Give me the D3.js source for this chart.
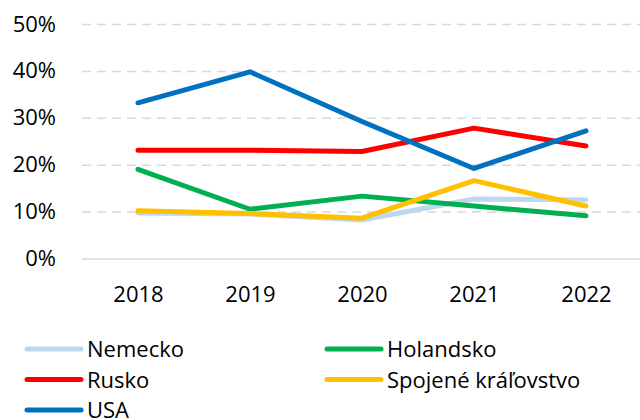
<!DOCTYPE html>
<html>
<head>
<meta charset="utf-8">
<script src="https://cdn.jsdelivr.net/npm/d3@7"></script>
<style>
  body { margin: 0; background: #fff; }
  svg { display: block; font-family: "Open Sans", sans-serif; }
</style>
</head>
<body>
<div id="vis"></div>
<script>
// years and shares (fraction) per country
var years = ["2018", "2019", "2020", "2021", "2022"];
var nemecko = [0.097, 0.095, 0.082, 0.127, 0.125];
var holandsko = [0.190, 0.105, 0.133, 0.112, 0.091];
var rusko = [0.231, 0.231, 0.228, 0.278, 0.240];
var spojene = [0.102, 0.096, 0.086, 0.166, 0.112];
var usa = [0.332, 0.398, 0.292, 0.192, 0.272];
var yTicks = [0, 0.1, 0.2, 0.3, 0.4, 0.5];

// draw order = legend order (last on top)
var series = [
    { name: "Nemecko", values: nemecko, color: "#bdd7ee" },
    { name: "Holandsko", values: holandsko, color: "#00b050" },
    { name: "Rusko", values: rusko, color: "#ff0000" },
    { name: "Spojené kráľovstvo", values: spojene, color: "#ffc000" },
    { name: "USA", values: usa, color: "#0070c0" }
];

var width = 640, height = 420;
var plotLeft = 82, plotRight = 642, plotTop = 24, plotBottom = 258.5;

var svg = d3.select("#vis").append("svg")
    .attr("width", width)
    .attr("height", height);

var x = d3.scalePoint().domain(years).range([plotLeft, plotRight]).padding(0.5);
var y = d3.scaleLinear().domain([0, 0.5]).range([plotBottom, plotTop]);

//y axis with gridlines
var yAxis = d3.axisLeft(y)
    .tickValues(yTicks)
    .tickFormat(d3.format(".0%"))
    .tickSize(-(640 - plotLeft))
    .tickPadding(26);

var yg = svg.append("g")
    .attr("transform", "translate(" + plotLeft + ",0)")
    .call(yAxis);
yg.select(".domain").remove();
yg.selectAll(".tick line")
    .attr("stroke", "#d9d9d9")
    .attr("stroke-width", 1.5)
    .attr("stroke-dasharray", function (d) { return d === 0 ? null : "9,6"; });
yg.selectAll(".tick text")
    .attr("font-size", 22)
    .attr("font-family", "Open Sans, sans-serif")
    .attr("fill", "#000");

//x axis labels
var xg = svg.append("g")
    .attr("transform", "translate(0," + plotBottom + ")")
    .call(d3.axisBottom(x).tickSize(0).tickPadding(28));
xg.select(".domain").remove();
xg.selectAll(".tick text")
    .attr("font-size", 22)
    .attr("font-family", "Open Sans, sans-serif")
    .attr("fill", "#000");

//lines
var line = d3.line()
    .x(function (d, i) { return x(years[i]); })
    .y(function (d) { return y(d); });

svg.append("g").selectAll("path")
    .data(series)
    .enter().append("path")
    .attr("d", function (d) { return line(d.values); })
    .attr("fill", "none")
    .attr("stroke", function (d) { return d.color; })
    .attr("stroke-width", 5)
    .attr("stroke-linecap", "round")
    .attr("stroke-linejoin", "round");

//legend, two columns
var legendX = [27, 327];
var legendY = [349, 379.5, 410];

var items = svg.append("g").selectAll("g")
    .data(series)
    .enter().append("g")
    .attr("transform", function (d, i) {
        return "translate(" + legendX[i % 2] + "," + legendY[Math.floor(i / 2)] + ")";
    });

items.append("line")
    .attr("x1", 0).attr("x2", 54)
    .attr("y1", 0).attr("y2", 0)
    .attr("stroke", function (d) { return d.color; })
    .attr("stroke-width", 5)
    .attr("stroke-linecap", "round");

items.append("text")
    .attr("x", 60)
    .attr("y", 8)
    .attr("font-size", 22)
    .attr("fill", "#000")
    .text(function (d) { return d.name; });
</script>
</body>
</html>
